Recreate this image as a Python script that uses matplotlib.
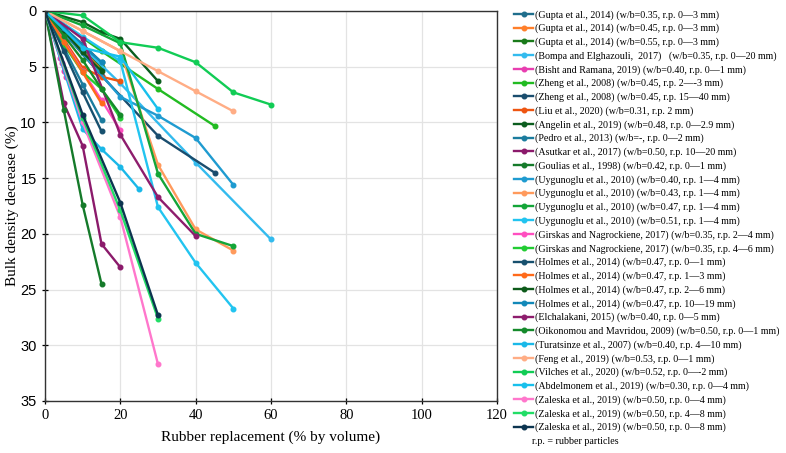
import matplotlib
matplotlib.use("Agg")
import matplotlib.pyplot as plt

# ---------- data ----------
labels = [
    "(Gupta et al., 2014) (w/b=0.35, r.p. 0\u20143 mm)",
    "(Gupta et al., 2014) (w/b=0.45, r.p. 0\u20143 mm)",
    "(Gupta et al., 2014) (w/b=0.55, r.p. 0\u20143 mm)",
    "(Bompa and Elghazouli,  2017)   (w/b=0.35, r.p. 0\u201420 mm)",
    "(Bisht and Ramana, 2019) (w/b=0.40, r.p. 0\u20141 mm)",
    "(Zheng et al., 2008) (w/b=0.45, r.p. 2\u2014-3 mm)",
    "(Zheng et al., 2008) (w/b=0.45, r.p. 15\u201440 mm)",
    "(Liu et al., 2020) (w/b=0.31, r.p. 2 mm)",
    "(Angelin et al., 2019) (w/b=0.48, r.p. 0\u20142.9 mm)",
    "(Pedro et al., 2013) (w/b=-, r.p. 0\u20142 mm)",
    "(Asutkar et al., 2017) (w/b=0.50, r.p. 10\u201420 mm)",
    "(Goulias et al., 1998) (w/b=0.42, r.p. 0\u20141 mm)",
    "(Uygunoglu et al., 2010) (w/b=0.40, r.p. 1\u20144 mm)",
    "(Uygunoglu et al., 2010) (w/b=0.43, r.p. 1\u20144 mm)",
    "(Uygunoglu et al., 2010) (w/b=0.47, r.p. 1\u20144 mm)",
    "(Uygunoglu et al., 2010) (w/b=0.51, r.p. 1\u20144 mm)",
    "(Girskas and Nagrockiene, 2017) (w/b=0.35, r.p. 2\u20144 mm)",
    "(Girskas and Nagrockiene, 2017) (w/b=0.35, r.p. 4\u20146 mm)",
    "(Holmes et al., 2014) (w/b=0.47, r.p. 0\u20141 mm)",
    "(Holmes et al., 2014) (w/b=0.47, r.p. 1\u20143 mm)",
    "(Holmes et al., 2014) (w/b=0.47, r.p. 2\u20146 mm)",
    "(Holmes et al., 2014) (w/b=0.47, r.p. 10\u201419 mm)",
    "(Elchalakani, 2015) (w/b=0.40, r.p. 0\u20145 mm)",
    "(Oikonomou and Mavridou, 2009) (w/b=0.50, r.p. 0\u20141 mm)",
    "(Turatsinze et al., 2007) (w/b=0.40, r.p. 4\u201410 mm)",
    "(Feng et al., 2019) (w/b=0.53, r.p. 0\u20141 mm)",
    "(Vilches et al., 2020) (w/b=0.52, r.p. 0\u2014-2 mm)",
    "(Abdelmonem et al., 2019) (w/b=0.30, r.p. 0\u20144 mm)",
    "(Zaleska et al., 2019) (w/b=0.50, r.p. 0\u20144 mm)",
    "(Zaleska et al., 2019) (w/b=0.50, r.p. 4\u20148 mm)",
    "(Zaleska et al., 2019) (w/b=0.50, r.p. 0\u20148 mm)",
]

colores = [
    "#1f6e8c", "#ff7f2a", "#1a7a1a", "#33bbee", "#e83eb0", "#22bb22",
    "#1a4d6e", "#ee5511", "#0b5d1e", "#1b7c9e", "#8b1a6b", "#157a2a",
    "#1f9bd0", "#ff9a5c", "#13a538", "#22c4f0", "#ff4fc0", "#22cc33",
    "#17506e", "#ff6a1a", "#0d5a1a", "#1288b8", "#8e1d6d", "#158a2b",
    "#1ab8e8", "#ffad85", "#11cc55", "#18c0ec", "#ff77cc", "#22dd66",
    "#0c3550",
]

xs = [
    [0, 5, 10, 15],
    [0, 5, 10, 15],
    [0, 5, 10, 15],
    [0, 20, 40, 60],
    [0, 4, 4.5, 5, 5.5],
    [0, 15, 30, 45],
    [0, 15, 30, 45],
    [0, 10, 15, 20],
    [0, 10, 15, 20, 30],
    [0, 5, 10, 15],
    [0, 5, 10, 15, 20],
    [0, 5, 10, 15],
    [0, 10, 20, 30, 40, 50],
    [0, 10, 20, 30, 40, 50],
    [0, 10, 20, 30, 40, 50],
    [0, 10, 20, 30, 40, 50],
    [0, 5, 10, 15, 20],
    [0, 5, 10, 15, 20],
    [0, 5, 10, 15],
    [0, 5, 10, 15],
    [0, 5, 10, 15],
    [0, 5, 10, 15],
    [0, 10, 20, 30, 40],
    [0, 5, 10, 15, 20],
    [0, 10, 15, 20, 25],
    [0, 10, 20, 30, 40, 50],
    [0, 10, 20, 30, 40, 50, 60],
    [0, 10, 20, 30],
    [0, 10, 20, 30],
    [0, 10, 20, 30],
    [0, 10, 20, 30],
]

ys = [
    [0, 1.5, 3.0, 4.6],
    [0, 1.8, 3.5, 5.2],
    [0, 1.6, 3.3, 5.0],
    [0, 6.5, 13.6, 20.5],
    [0, 4.2, 4.7, 5.4, 5.9],
    [0, 3.6, 7.0, 10.3],
    [0, 5.8, 11.2, 14.5],
    [0, 5.1, 5.9, 6.3],
    [0, 1.0, 1.9, 2.5, 6.3],
    [0, 3.3, 6.6, 9.8],
    [0, 8.3, 12.1, 20.9, 23.0],
    [0, 8.9, 17.4, 24.5],
    [0, 3.8, 7.7, 9.4, 11.4, 15.6],
    [0, 1.8, 3.6, 13.8, 19.6, 21.5],
    [0, 1.3, 2.9, 14.6, 20.0, 21.1],
    [0, 2.3, 4.5, 17.6, 22.6, 26.7],
    [0, 2.7, 5.4, 8.0, 10.7],
    [0, 3.0, 5.5, 7.0, 9.6],
    [0, 3.6, 7.3, 10.8],
    [0, 2.8, 5.5, 8.3],
    [0, 1.8, 3.7, 5.4],
    [0, 1.5, 3.1, 4.6],
    [0, 2.5, 11.1, 16.7, 20.2],
    [0, 2.2, 4.4, 7.0, 9.3],
    [0, 10.6, 12.4, 14.0, 16.0],
    [0, 1.8, 3.6, 5.4, 7.2, 9.0],
    [0, 0.4, 2.8, 3.3, 4.6, 7.3, 8.4],
    [0, 3.3, 4.1, 8.8],
    [0, 10.0, 18.5, 31.7],
    [0, 9.6, 17.9, 27.6],
    [0, 9.3, 17.2, 27.3],
]

xticks = [0, 20, 40, 60, 80, 100, 120]
yticks = [0, 5, 10, 15, 20, 25, 30, 35]

# ---------- fontes ----------
fonte_serif = "Liberation Serif"
plt.rcParams["font.family"] = fonte_serif

fig = plt.figure(figsize=(7.86, 4.53), dpi=100)
ax = fig.add_axes([45 / 786, 1 - 401 / 453, 452 / 786, 390 / 453])

for x, y, c, lab in zip(xs, ys, colores, labels):
    ax.plot(x, y, color=c, lw=1.7, marker="o", ms=3.3, label=lab)

ax.set_xlim(0, 120)
ax.set_ylim(35, 0)
ax.set_xticks(xticks)
ax.set_yticks(yticks)
ax.grid(color="#e3e3e3", lw=0.9, zorder=0)
ax.set_axisbelow(True)
ax.tick_params(direction="inout", length=5, width=0.9, labelsize=10.5)
for lbl in ax.get_yticklabels():
    lbl.set_family("Liberation Sans")
for s in ax.spines.values():
    s.set_color("#333333")
    s.set_linewidth(1.0)

ax.set_xlabel("Rubber replacement (% by volume)", fontsize=11, labelpad=6)
ax.set_ylabel("Bulk density decrease (%)", fontsize=11, labelpad=1)

leg = fig.legend(loc="upper left", bbox_to_anchor=(514 / 786, 1 - 10 / 453),
                 frameon=False, fontsize=7.2, labelspacing=0.415,
                 handlelength=1.9, handletextpad=0.2, borderaxespad=0,
                 borderpad=0)
fig.text(532 / 786, 1 - 442 / 453, "r.p. = rubber particles",
         fontsize=7.2, va="center", ha="left")

fig.savefig("out.png", dpi=100)
